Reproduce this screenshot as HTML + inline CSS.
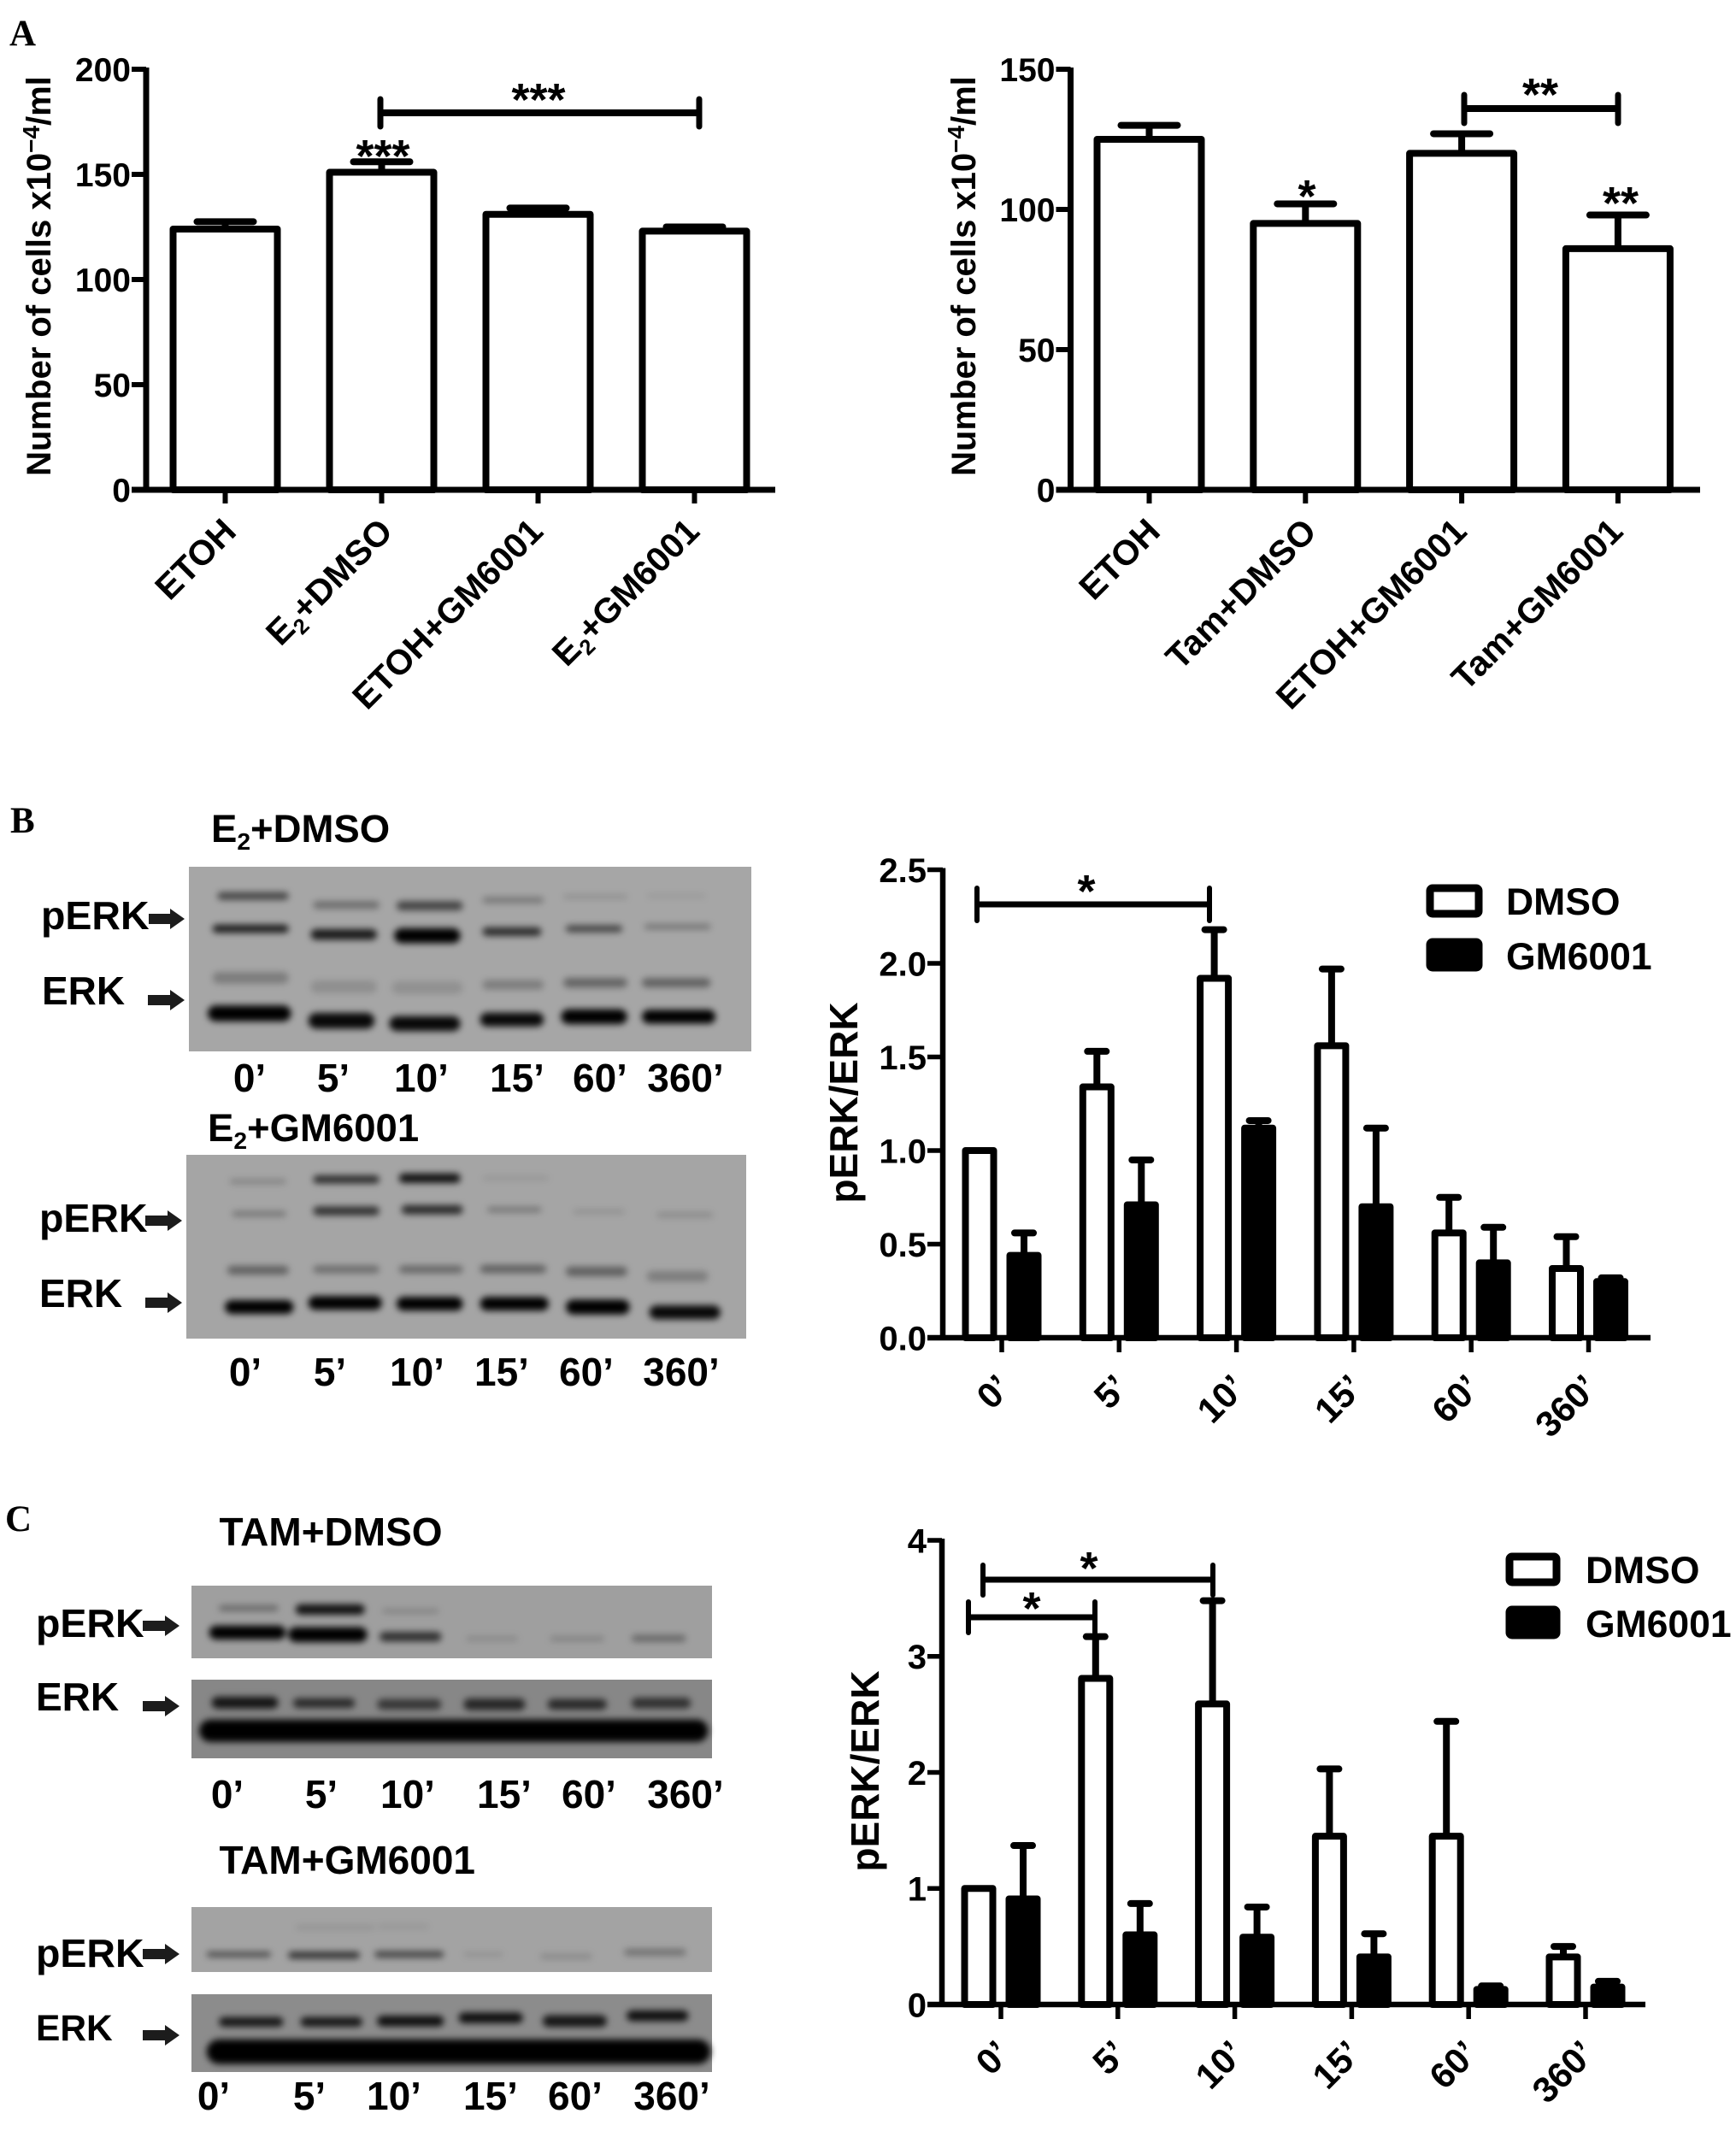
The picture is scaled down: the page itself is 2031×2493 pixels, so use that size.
<!DOCTYPE html>
<html lang="en">
<head>
<meta charset="utf-8">
<title>ERK activation figure</title>
<style>
html,body{margin:0;padding:0;background:#fff;}
svg{display:block;}
text{font-family:"Liberation Sans",sans-serif;font-weight:bold;fill:#000;}
.serif{font-family:"Liberation Serif",serif;}
</style>
</head>
<body>
<svg id="fig" xmlns="http://www.w3.org/2000/svg" width="2031" height="2493" viewBox="0 0 2031 2493">
<defs>
<filter id="b1" x="-10%" y="-80%" width="120%" height="260%"><feGaussianBlur stdDeviation="4"/></filter>
</defs>
<rect width="2031" height="2493" fill="#fff"/>
<text class="serif" x="11" y="53" font-size="43">A</text>
<text class="serif" x="12" y="974" font-size="43">B</text>
<text class="serif" x="6" y="1791" font-size="43">C</text>
</svg>
<script>
// ---- chart data ----
const a1Categories = ["ETOH", "E2+DMSO", "ETOH+GM6001", "E2+GM6001"];
const a1Values = [124, 151, 131, 123];
const a1ErrorTops = [127.5, 156, 134, 125];
const a1Ticks = [0, 50, 100, 150, 200];

const a2Categories = ["ETOH", "Tam+DMSO", "ETOH+GM6001", "Tam+GM6001"];
const a2Values = [125, 95, 120, 86];
const a2ErrorTops = [130, 102, 127, 98];
const a2Ticks = [0, 50, 100, 150];

const timeCategories = ["0\u2019", "5\u2019", "10\u2019", "15\u2019", "60\u2019", "360\u2019"];

const bDmso = [1.0, 1.34, 1.92, 1.56, 0.56, 0.37];
const bDmsoErrorTops = [1.0, 1.53, 2.18, 1.97, 0.75, 0.54];
const bGm = [0.44, 0.71, 1.12, 0.70, 0.40, 0.30];
const bGmErrorTops = [0.56, 0.95, 1.16, 1.12, 0.59, 0.32];
const bTicks = ["0.0", "0.5", "1.0", "1.5", "2.0", "2.5"];

const cDmso = [1.0, 2.81, 2.59, 1.45, 1.45, 0.41];
const cDmsoErrorTops = [1.0, 3.17, 3.48, 2.03, 2.44, 0.5];
const cGm = [0.91, 0.6, 0.58, 0.41, 0.13, 0.15];
const cGmErrorTops = [1.37, 0.87, 0.84, 0.61, 0.16, 0.2];
const cTicks = ["0", "1", "2", "3", "4"];

const NS = "http://www.w3.org/2000/svg";
const fig = document.getElementById("fig");

function mk(tag, attrs, parent) {
  const el = document.createElementNS(NS, tag);
  for (const k in attrs) el.setAttribute(k, attrs[k]);
  (parent || fig).appendChild(el);
  return el;
}

function line(x1, y1, x2, y2, w, cap, parent) {
  return mk("line", { x1: x1, y1: y1, x2: x2, y2: y2, stroke: "#000", "stroke-width": w, "stroke-linecap": cap || "butt" }, parent);
}

function label(str, x, y, size, anchor, parent) {
  const t = mk("text", { x: x, y: y, "font-size": size, "text-anchor": anchor || "start" }, parent);
  t.textContent = str;
  return t;
}

// Text with a subscript 2 after the leading E, e.g. E2+DMSO
function subLabel(str, attrs, size, parent) {
  const t = mk("text", attrs, parent);
  t.setAttribute("font-size", size);
  if (str.indexOf("E2") === 0) {
    const a = mk("tspan", {}, t);
    a.textContent = "E";
    const b = mk("tspan", { dy: size * 0.2, "font-size": size * 0.62 }, t);
    b.textContent = "2";
    const c = mk("tspan", { dy: -size * 0.2 }, t);
    c.textContent = str.slice(2);
  } else {
    t.textContent = str;
  }
  return t;
}

function drawYAxis(g, p, ticks, fontSize) {
  const axis = line(p.x0, p.top - 2, p.x0, p.bottom + 3, p.sw, "butt", g);
  
  
  ticks.forEach(function (tk) {
    const y = p.y(parseFloat(tk));
    const m = line(p.tickLeft, y, p.x0, y, p.sw - 1, "butt", g);
    
    
    const t = label(String(tk), p.tickLeft - 1, y + fontSize * 0.36, fontSize, "end", g);
    
    
  });
}

function drawXAxis(g, p) {
  const axis = line(p.tickLeft, p.bottom, p.xRight, p.bottom, p.sw, "butt", g);
  
  
}

function drawXTick(g, p, x) {
  const m = line(x, p.bottom, x, p.tickBottom, p.sw - 1, "butt", g);
  
  
}

function drawBar(g, p, cx, w, value, errTop, fill, capW) {
  const y = p.y(value);
  if (errTop > value) {
    const et = p.y(errTop);
    const stem = line(cx, y, cx, et, p.errW, "butt", g);
    
    
    const cap = line(cx - capW / 2, et, cx + capW / 2, et, p.errW, "round", g);
    
    
  }
  const r = mk("rect", { x: cx - w / 2, y: y, width: w, height: p.bottom - y, fill: fill, stroke: "#000", "stroke-width": p.barSw, "stroke-linejoin": "round" }, g);
  
  
}

function bracket(g, x1, x2, y, yTop, yBot, w) {
  const h = line(x1, y, x2, y, w, "butt", g);
  
  
  const l = line(x1, yTop, x1, yBot, w - 1, "round", g);
  
  
  const r = line(x2, yTop, x2, yBot, w - 1, "round", g);
  
  
}

function stars(g, str, x, y) {
  const t = label(str, x, y, 54, "middle", g);
  
  
}

function yScaleFor(top, bottom, max) {
  return function (v) { return bottom - (v / max) * (bottom - top); };
}

function cellsTitle(g, cx) {
  const t = mk("text", { transform: "translate(" + cx + ",323) rotate(-90)", "text-anchor": "middle", "font-size": 40 }, g);
  
  
  const a = mk("tspan", {}, t);
  a.textContent = "Number of cells x10";
  const b = mk("tspan", { dy: -13, "font-size": 28 }, t);
  b.textContent = "\u22124";
  const c = mk("tspan", { dy: 13 }, t);
  c.textContent = "/ml";
}

function drawSimpleChart(name, x0, xRight, firstTick, band, ymax, cats, vals, errs, ticks, titleX) {
  const g = mk("g", {});
  
  
  const p = { x0: x0, top: 81, bottom: 573, tickLeft: x0 - 17, xRight: xRight, tickBottom: 589, sw: 7, errW: 8, barSw: 8, y: yScaleFor(81, 573, ymax) };
  cats.forEach(function (c, i) {
    const cx = firstTick + i * band;
    drawBar(g, p, cx, 122, vals[i], errs[i], "#fff", 66);
    drawXTick(g, p, cx);
    const longShift = c.length > 8 ? -7 : 0;
    const tx = cx + 15 + longShift, ty = 624;
    const t = subLabel(c, { transform: "translate(" + tx + "," + ty + ") rotate(-45)", "text-anchor": "end" }, 41, g);
    
    
  });
  drawYAxis(g, p, ticks, 39);
  drawXAxis(g, p);
  cellsTitle(g, titleX);
  return g;
}

function drawGroupedChart(name, p, dmso, dmsoErr, gm, gmErr, ticks, firstTick, band, titleX, titleMid, labelY) {
  const g = mk("g", {});
  
  
  timeCategories.forEach(function (c, i) {
    const cx = firstTick + i * band;
    drawBar(g, p, cx - 26, 33, dmso[i], dmsoErr[i], "#fff", 22);
    drawBar(g, p, cx + 26, 33, gm[i], gmErr[i], "#000", 22);
    drawXTick(g, p, cx);
    const t = label(c, 0, 0, 42, "end", g);
    t.setAttribute("transform", "translate(" + (cx + 13) + "," + labelY + ") rotate(-45)");
    
    
  });
  drawYAxis(g, p, ticks, 40);
  drawXAxis(g, p);
  const title = mk("text", { transform: "translate(" + titleX + "," + titleMid + ") rotate(-90)", "text-anchor": "middle", "font-size": 46 }, g);
  title.textContent = "pERK/ERK";
  
  
  return g;
}

function legend(g, boxX, boxW, y1, y2, textX) {
  const a = mk("rect", { x: boxX, y: y1, width: boxW, height: 30, fill: "#fff", stroke: "#000", "stroke-width": 9, rx: 3 }, g);
  
  
  const at = label("DMSO", textX, y1 + 31, 44.5, "start", g);
  
  
  const b = mk("rect", { x: boxX, y: y2, width: boxW, height: 30, fill: "#000", stroke: "#000", "stroke-width": 9, rx: 3 }, g);
  
  
  const bt = label("GM6001", textX, y2 + 32, 44.5, "start", g);
  
  
}

// ---- panel A ----
const gA1 = drawSimpleChart("cell-count-chart-e2", 171, 907, 263.5, 183, 200, a1Categories, a1Values, a1ErrorTops, a1Ticks, 59);
bracket(gA1, 445, 818, 132, 116, 148, 8);
stars(gA1, "***", 630, 135);
stars(gA1, "***", 448, 201);

const gA2 = drawSimpleChart("cell-count-chart-tam", 1252.5, 1989, 1344.5, 182.8, 150, a2Categories, a2Values, a2ErrorTops, a2Ticks, 1141);
bracket(gA2, 1713, 1893, 127, 111, 144, 8);
stars(gA2, "**", 1802, 129);
stars(gA2, "*", 1529, 248);
stars(gA2, "**", 1896, 256);

// ---- panel B chart ----
const pB = { x0: 1103, top: 1017.5, bottom: 1565, tickLeft: 1085, xRight: 1931, tickBottom: 1582, sw: 6.5, errW: 8, barSw: 8, y: yScaleFor(1017.5, 1565, 2.5) };
const gB = drawGroupedChart("perk-chart-e2", pB, bDmso, bDmsoErrorTops, bGm, bGmErrorTops, bTicks, 1172, 137.3, 1003, 1290, 1626);
bracket(gB, 1143, 1415, 1058, 1039, 1077, 7);
stars(gB, "*", 1271, 1061);
legend(gB, 1673, 57, 1039, 1102, 1762);

// ---- panel C chart ----
const pC = { x0: 1102, top: 1802, bottom: 2345, tickLeft: 1085, xRight: 1925, tickBottom: 2362, sw: 6.5, errW: 8, barSw: 8, y: yScaleFor(1802, 2345, 4) };
const gC = drawGroupedChart("perk-chart-tam", pC, cDmso, cDmsoErrorTops, cGm, cGmErrorTops, cTicks, 1171, 136.8, 1028, 2072, 2405);
bracket(gC, 1150, 1419, 1848, 1831, 1866, 7);
stars(gC, "*", 1274, 1853);
bracket(gC, 1133, 1281, 1892, 1874, 1910, 7);
stars(gC, "*", 1207, 1900);
legend(gC, 1766, 55, 1821, 1883, 1855);

// ---- western blots (decorative raster stand-ins) ----
function blot(name, x, y, w, h, bg, bands, xf, yf, ox, oy) {
  const g = mk("g", {});
  
  
  mk("rect", { x: x, y: y, width: w, height: h, fill: bg }, g);
  const f = mk("g", { filter: "url(#b1)" }, g);
  bands.forEach(function (b) {
    const bh = b[3] * 1.3 / yf;
    mk("rect", { x: b[0] / xf + ox, y: b[2] / yf + oy - bh / 2, width: (b[1] - b[0]) / xf, height: bh, rx: bh / 2, fill: "#000", "fill-opacity": b[4] }, f);
  });
}

const blotB1 = [
  [445,590,268,14,.6],[640,775,290,14,.35],[810,945,292,17,.6],[985,1110,278,12,.28],[1150,1280,270,8,.15],[1320,1440,268,8,.08],
  [435,590,348,15,.85],[635,770,362,20,.85],[805,940,365,28,1],[985,1105,355,16,.75],[1155,1270,348,13,.6],[1315,1450,343,10,.3],
  [435,590,468,22,.25],[635,770,490,24,.14],[800,945,492,24,.13],[985,1110,485,18,.25],[1150,1280,480,18,.4],[1310,1450,480,17,.42],
  [425,595,555,30,1],[630,765,573,30,.95],[795,940,580,28,.95],[980,1110,570,26,.95],[1145,1280,563,28,1],[1310,1460,563,26,1]
];
const blotB2 = [
  [470,585,968,9,.22],[640,775,963,15,.75],[815,940,960,18,.9],[985,1120,960,8,.1],
  [475,585,1047,10,.3],[640,775,1040,17,.7],[820,945,1037,17,.75],[995,1105,1037,10,.3],[1170,1275,1042,9,.13],[1340,1455,1050,10,.16],
  [465,590,1185,16,.42],[640,775,1183,14,.35],[815,945,1183,14,.38],[980,1115,1182,15,.42],[1155,1280,1188,18,.42],[1320,1445,1200,20,.24],
  [460,600,1275,26,1],[630,780,1265,26,1],[810,945,1267,26,1],[980,1120,1267,26,1],[1155,1285,1275,28,1],[1325,1470,1288,26,.95]
];
blot("western-blot-e2-dmso", 221, 1014, 658, 216, "#a6a6a6", blotB1, 1.742, 2.09, -1, 920);
blot("western-blot-e2-gm6001", 218, 1351, 655, 215, "#a5a5a5", blotB2, 1.742, 2.09, -1, 919);

const blotC1 = [
  [445,565,293,10,.38],[600,740,296,19,.9],[775,890,300,8,.2],
  [425,580,352,26,1],[585,745,357,28,1],[770,895,362,18,.7],[945,1050,367,9,.15],[1115,1225,367,10,.18],[1280,1390,366,13,.35]
];
const blotC2 = [
  [430,565,522,22,.85],[595,720,523,18,.7],[765,895,526,20,.6],[940,1065,526,22,.72],[1110,1230,526,20,.7],[1280,1400,523,20,.65],
  [405,1435,590,42,1]
];
const blotC3 = [
  [600,760,1067,9,.1],[765,870,1065,9,.08],
  [420,550,1132,10,.55],[585,730,1134,13,.7],[760,900,1132,12,.6],[940,1020,1132,8,.12],[1095,1200,1137,10,.16],[1265,1390,1127,12,.32]
];
const blotC4 = [
  [445,575,1300,18,.85],[610,735,1300,18,.85],[765,900,1298,20,.9],[930,1060,1290,20,.9],[1100,1230,1298,22,.85],[1270,1395,1285,20,.9],
  [420,1440,1372,46,1]
];
blot("western-blot-tam-dmso-perk", 224, 1855, 609, 85, "#9f9f9f", blotC1, 1.73, 2.072, -1, 1740);
blot("western-blot-tam-dmso-erk", 224, 1965, 609, 92, "#878787", blotC2, 1.73, 2.072, -1, 1740);
blot("western-blot-tam-gm6001-perk", 224, 2231, 609, 76, "#a3a3a3", blotC3, 1.73, 2.072, -1, 1740);
blot("western-blot-tam-gm6001-erk", 224, 2333, 609, 91, "#8c8c8c", blotC4, 1.73, 2.072, -1, 1738);

function arrow(x1, x2, y) {
  const head = x2 - 17;
  const a = mk("polygon", { points: [x1, y - 6, head, y - 6, head, y - 12, x2, y, head, y + 12, head, y + 6, x1, y + 6].join(","), fill: "#1c1c1c" });
  
  
}

function blotLabel(str, x, y, size) {
  const t = label(str, x, y, size, "start");
  
  
}

function blotTitle(str, x, y, size) {
  const t = subLabel(str, { x: x, y: y }, size);
  
  
}

function timeRow(centers, y) {
  timeCategories.forEach(function (c, i) {
    const t = label(c, centers[i], y, 46, "middle");
    
    
  });
}

blotTitle("E2+DMSO", 247, 985, 45.5);
blotLabel("pERK", 48, 1087, 46.5);
arrow(174, 216, 1075);
blotLabel("ERK", 49, 1175, 46);
arrow(173, 216, 1170);
timeRow([292, 390, 493, 605, 702, 802], 1277);

blotTitle("E2+GM6001", 243, 1335, 45.5);
blotLabel("pERK", 46, 1441, 46.5);
arrow(170, 213, 1428);
blotLabel("ERK", 46, 1529, 46);
arrow(170, 213, 1524);
timeRow([287, 386, 488, 587, 686, 797], 1621);

blotTitle("TAM+DMSO", 256.5, 1808, 46);
blotLabel("pERK", 42, 1915, 46.5);
arrow(167, 210, 1902);
blotLabel("ERK", 42, 2001, 46);
arrow(167, 210, 1996);
timeRow([266, 376, 477, 590, 689, 802], 2115);

blotTitle("TAM+GM6001", 256.5, 2192, 46);
blotLabel("pERK", 42, 2301, 46.5);
arrow(167, 210, 2286);
blotLabel("ERK", 42, 2387, 42.5);
arrow(167, 210, 2381);
timeRow([250, 362, 461, 574, 673, 786], 2468);
</script>
</body>
</html>
